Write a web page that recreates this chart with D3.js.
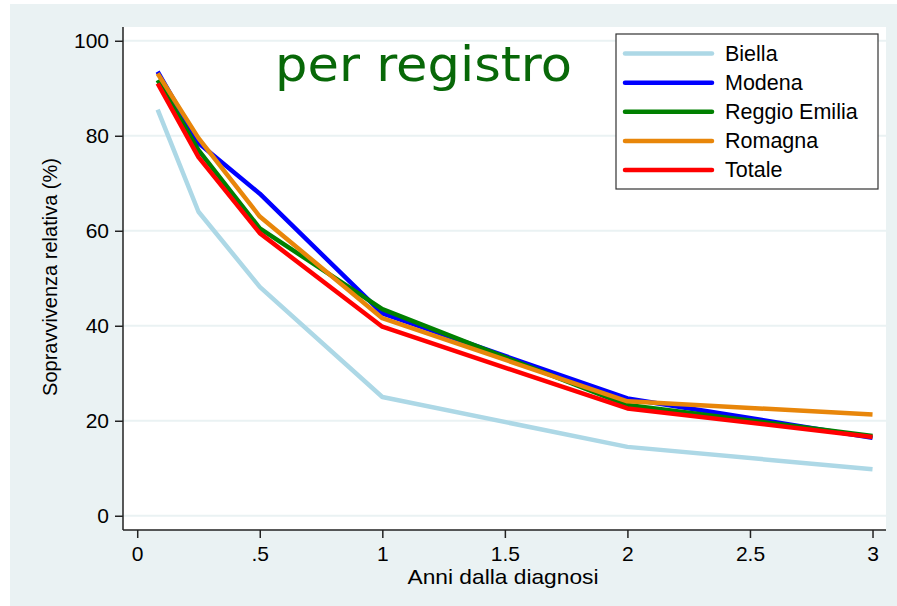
<!DOCTYPE html>
<html><head><meta charset="utf-8">
<script src="https://cdn.jsdelivr.net/npm/d3@7"></script>
<style>body{margin:0;background:#fff}svg{display:block}</style>
</head><body>
<svg id="c" width="897" height="606"></svg>
<script>
const years = [1/12, 0.25, 0.5, 1, 2, 3];
const seriesNames = ["Biella", "Modena", "Reggio Emilia", "Romagna", "Totale"];
const biella  = [85.5, 64.0, 48.2, 25.0, 14.5, 9.8];
const modena  = [93.5, 78.5, 67.8, 42.6, 24.7, 16.4];
const reggio  = [91.7, 77.0, 60.5, 43.5, 23.3, 16.8];
const romagna = [93.1, 79.5, 63.0, 41.6, 24.1, 21.3];
const totale  = [91.0, 75.5, 59.5, 39.8, 22.6, 16.6];
const xTicks = [0, 0.5, 1, 1.5, 2, 2.5, 3];
const xTickLabels = ["0", ".5", "1", "1.5", "2", "2.5", "3"];
const yTicks = [0, 20, 40, 60, 80, 100];
const colors = ["#add8e6", "#0000ff", "#008000", "#e8860a", "#ff0000"];
const values = [biella, modena, reggio, romagna, totale];

const svg = d3.select("#c");
const font = "Liberation Sans, Arial, Helvetica, sans-serif";
const bg = "#eaf2f3";

svg.append("rect").attr("x", 10).attr("y", 4).attr("width", 887).attr("height", 602).attr("fill", bg);

const L = 123, R = 886, T = 27, B = 530;
svg.append("rect").attr("x", L).attr("y", T).attr("width", R - L).attr("height", B - T).attr("fill", "#fff");

const x = d3.scaleLinear().domain([-0.058, 3.055]).range([L, R]);
const y = d3.scaleLinear().domain([-3.0, 102.9]).range([B, T]);

// gridlines
svg.append("g").selectAll("line").data(yTicks).join("line")
  .attr("x1", L).attr("x2", R).attr("y1", d => y(d)).attr("y2", d => y(d))
  .attr("stroke", bg).attr("stroke-width", 2);

// axes
const yAxis = svg.append("g").attr("transform", `translate(${L},0)`)
  .call(d3.axisLeft(y).tickValues(yTicks).tickSize(8).tickPadding(6).tickFormat(d3.format("d")));
const xAxis = svg.append("g").attr("transform", `translate(0,${B})`)
  .call(d3.axisBottom(x).tickValues(xTicks).tickSize(8).tickPadding(8).tickFormat((d, i) => xTickLabels[i]));
[xAxis, yAxis].forEach(g => {
  g.select(".domain").attr("stroke", "#222").attr("stroke-width", 1.5);
  g.selectAll(".tick line").attr("stroke", "#222").attr("stroke-width", 1.5);
  g.selectAll(".tick text").attr("fill", "#000").style("font-family", font).style("font-size", "21px");
});
yAxis.select(".domain").attr("d", `M0,${T}V${B}`);
xAxis.select(".domain").attr("d", `M${L},0H${R}`);

// lines
const line = d3.line().x((d, i) => x(years[i])).y(d => y(d));
svg.append("g").selectAll("path").data(values).join("path")
  .attr("d", d => line(d)).attr("fill", "none")
  .attr("stroke", (d, i) => colors[i]).attr("stroke-width", 4.5)
  .attr("stroke-linejoin", "round");

// title
svg.append("text").attr("x", 275).attr("y", 81).text("per registro")
  .attr("fill", "#086808")
  .style("font-family", "'Comic Sans MS', 'DejaVu Sans', sans-serif").style("font-size", "48px")
  .attr("textLength", 297).attr("lengthAdjust", "spacingAndGlyphs");

// axis titles
svg.append("text").attr("x", 503).attr("y", 584).attr("text-anchor", "middle")
  .text("Anni dalla diagnosi").style("font-family", font).style("font-size", "21px")
  .attr("textLength", 191).attr("lengthAdjust", "spacingAndGlyphs");
svg.append("text").attr("transform", "translate(57,277) rotate(-90)").attr("text-anchor", "middle")
  .text("Sopravvivenza relativa (%)").style("font-family", font).style("font-size", "20px");

// legend
const lg = svg.append("g");
lg.append("rect").attr("x", 616).attr("y", 34).attr("width", 262).attr("height", 155)
  .attr("fill", "#fff").attr("stroke", "#333").attr("stroke-width", 1.2);
const ly = d3.scalePoint().domain(seriesNames).range([53.5, 170]);
seriesNames.forEach((n, i) => {
  lg.append("line").attr("x1", 625).attr("x2", 712).attr("y1", ly(n)).attr("y2", ly(n))
    .attr("stroke", colors[i]).attr("stroke-width", 4.5).attr("stroke-linecap", "round");
  lg.append("text").attr("x", 725).attr("y", ly(n) + 7).text(n)
    .style("font-family", font).style("font-size", "21.5px");
});
</script>
</body></html>
